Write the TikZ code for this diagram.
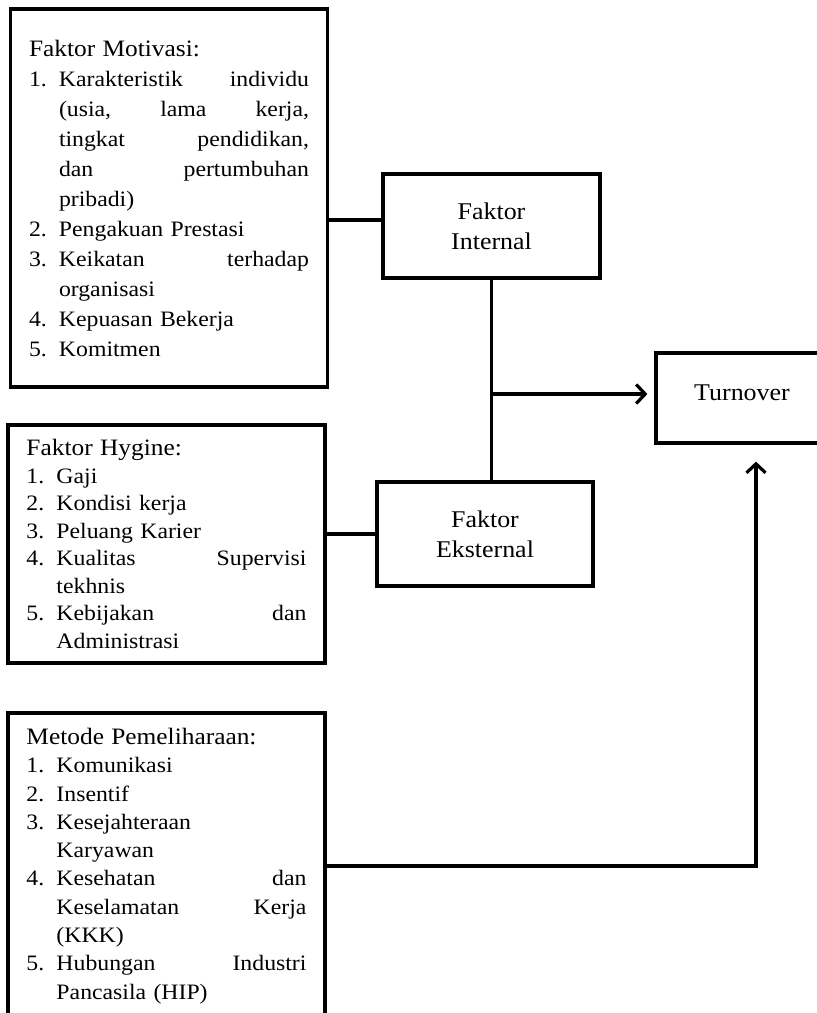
\documentclass[tikz,border=0pt]{standalone}
\usepackage{fontspec}
\setmainfont{Liberation Serif}[FakeStretch=1.08]
\usepackage{tikz}
\usetikzlibrary{positioning}
\usetikzlibrary{arrows.meta,calc}
\tikzstyle{daftar} = [rectangle, draw=black, line width=3.2pt, minimum width=317pt, text width=280pt, align=left, inner sep=0pt]
\tikzstyle{faktor} = [rectangle, draw=black, line width=3.2pt, minimum width=217pt, minimum height=104pt, align=center, font=\fontsize{24}{30}\selectfont]
\tikzstyle{garis} = [line width=3.2pt]
\tikzstyle{arrow} = [line width=3.2pt,-{Straight Barb[length=9pt,width=19pt]}]
\newcommand{\itm}[1]{\makebox[30pt][l]{#1}}
\newcommand{\ind}{\hspace*{30pt}}
\newcommand{\judul}[1]{{\fontsize{23.5}{23.5}\selectfont #1}}
\begin{document}
\begin{tikzpicture}[x=1pt,y=-1pt]
	\useasboundingbox (0,0) rectangle (817,1013);
	\clip (0,0) rectangle (817,1013);
	% kotak daftar di kiri
	\node (motivasi) [daftar, minimum height=378pt, font=\fontsize{22}{30}\selectfont] at (169,198) {\judul{Faktor Motivasi:}\\
		\itm{1.}Karakteristik\hfill individu\\
		\ind(usia,\hfill lama\hfill kerja,\\
		\ind tingkat\hfill pendidikan,\\
		\ind dan\hfill pertumbuhan\\
		\ind pribadi)\\
		\itm{2.}Pengakuan Prestasi\\
		\itm{3.}Keikatan\hfill terhadap\\
		\ind organisasi\\
		\itm{4.}Kepuasan Bekerja\\
		\itm{5.}Komitmen};
	\node (hygine) [daftar, minimum height=238pt, font=\fontsize{22}{27.5}\selectfont] at (166.5,544) {\judul{Faktor Hygine:}\\
		\itm{1.}Gaji\\
		\itm{2.}Kondisi kerja\\
		\itm{3.}Peluang Karier\\
		\itm{4.}Kualitas\hfill Supervisi\\
		\ind tekhnis\\
		\itm{5.}Kebijakan\hfill dan\\
		\ind Administrasi};
	\node (metode) [daftar, minimum height=306pt, font=\fontsize{22}{28.3}\selectfont] at (166.5,866) {\judul{Metode Pemeliharaan:}\\
		\itm{1.}Komunikasi\\
		\itm{2.}Insentif\\
		\itm{3.}Kesejahteraan\\
		\ind Karyawan\\
		\itm{4.}Kesehatan\hfill dan\\
		\ind Keselamatan\hfill Kerja\\
		\ind(KKK)\\
		\itm{5.}Hubungan\hfill Industri\\
		\ind Pancasila (HIP)};
	% faktor dan hasil
	\node (internal) [faktor] at (491.5,226) {Faktor\\Internal};
	\node (eksternal) [faktor, minimum width=216pt] at (485,534) {Faktor\\Eksternal};
	\node (turnover) [faktor, minimum width=172pt, minimum height=90pt, text depth=11pt] at (742,398) {Turnover};
	\coordinate (cabang) at (491.5,394);
	\coordinate (belok) at (756,866);
	\draw [garis] ([yshift=6pt]internal.west) -- ([yshift=6pt]internal.west -| motivasi.east);
	\draw [garis] (eksternal.west) -- (eksternal.west -| hygine.east);
	\draw [garis] (internal.south) -- (internal.south |- eksternal.north);
	\draw [arrow, shorten >=7pt] (cabang) -- (cabang -| turnover.west);
	\draw [arrow, shorten >=17pt] (metode.east) -- (belok) -- (belok |- turnover.south);
\end{tikzpicture}
\end{document}
